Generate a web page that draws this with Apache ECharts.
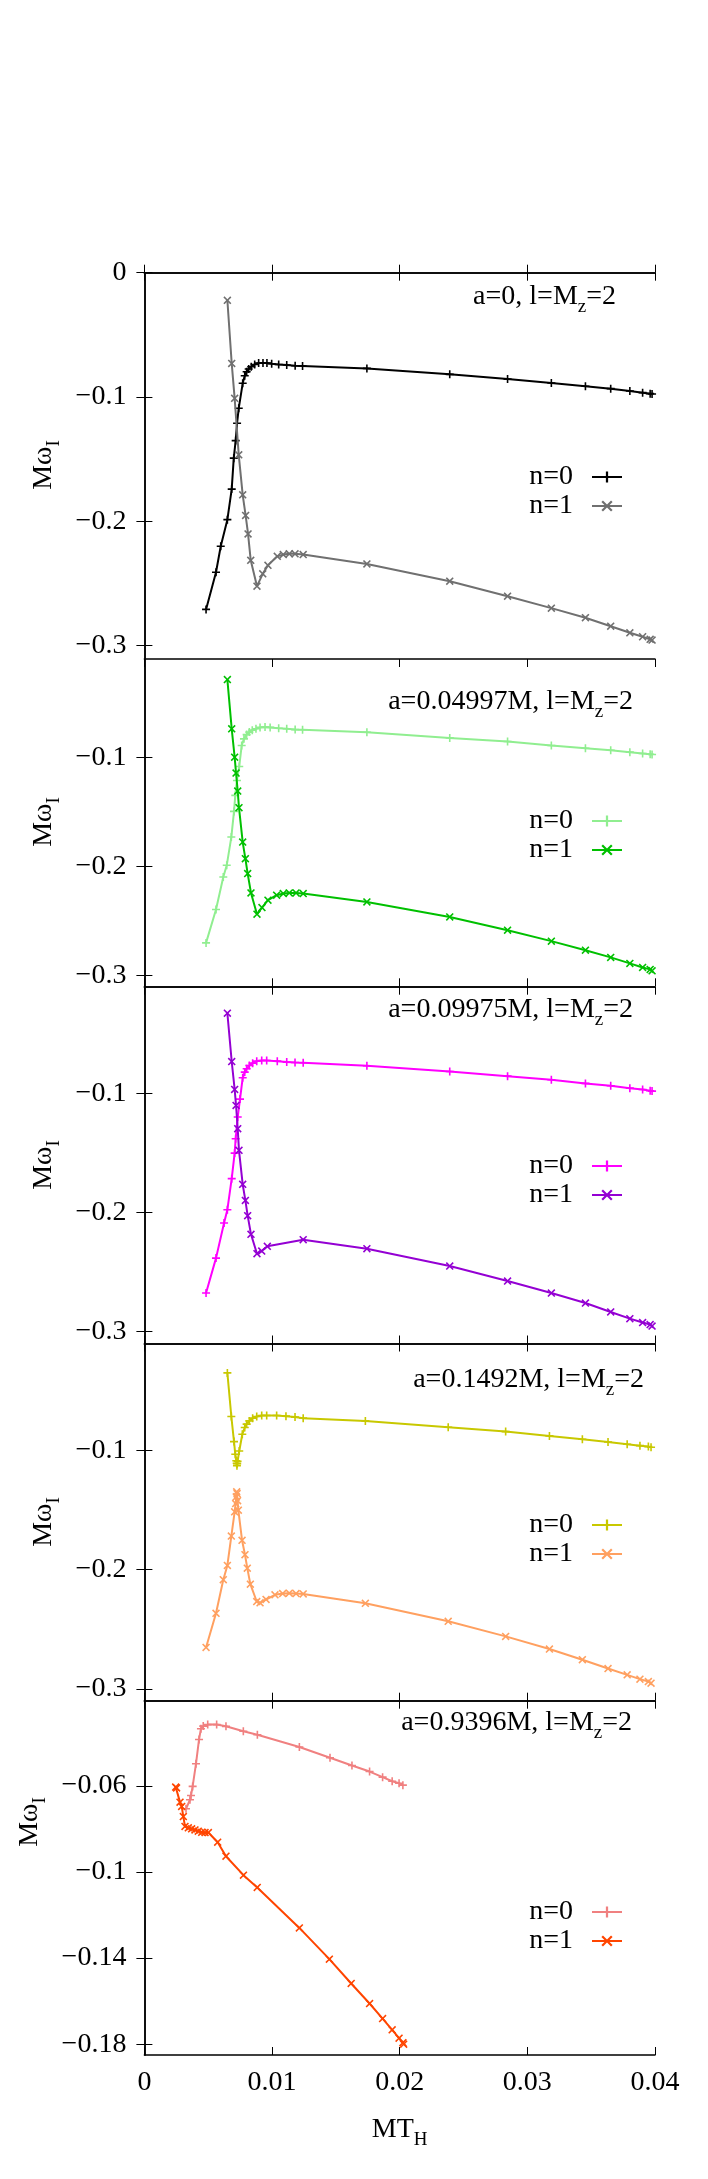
<!DOCTYPE html>
<html><head><meta charset="utf-8">
<script src="https://cdn.jsdelivr.net/npm/echarts@6/dist/echarts.min.js"></script>
<style>html,body{margin:0;padding:0;background:#fff}#c{width:708px;height:2179px}</style>
</head><body><div id="c"></div>
<script>
// ---------- data (x = M T_H, y = M omega_I) ----------
const p1n0 = [[0.00483,-0.2709],[0.00561,-0.2410],[0.00598,-0.2201],[0.00650,-0.1987],[0.00684,-0.1741],[0.00700,-0.1492],[0.00715,-0.1351],[0.00726,-0.1211],[0.00739,-0.1091],[0.00770,-0.0890],[0.00786,-0.0829],[0.00801,-0.0797],[0.00817,-0.0775],[0.00837,-0.0757],[0.00864,-0.0738],[0.00895,-0.0727],[0.00929,-0.0727],[0.00960,-0.0727],[0.00997,-0.0733],[0.01052,-0.0738],[0.01115,-0.0743],[0.01181,-0.0749],[0.01239,-0.0751],[0.01743,-0.0770],[0.02392,-0.0818],[0.02845,-0.0856],[0.03188,-0.0888],[0.03455,-0.0914],[0.03653,-0.0933],[0.03803,-0.0952],[0.03903,-0.0965],[0.03962,-0.0973],[0.03977,-0.0976]];
const p1n1 = [[0.00650,-0.0222],[0.00684,-0.0730],[0.00707,-0.1011],[0.00739,-0.1465],[0.00770,-0.1787],[0.00793,-0.1953],[0.00812,-0.2102],[0.00833,-0.2314],[0.00882,-0.2522],[0.00927,-0.2423],[0.00968,-0.2354],[0.01041,-0.2282],[0.01088,-0.2268],[0.01135,-0.2262],[0.01180,-0.2262],[0.01244,-0.2268],[0.01743,-0.2343],[0.02392,-0.2482],[0.02845,-0.2603],[0.03188,-0.2699],[0.03455,-0.2776],[0.03653,-0.2844],[0.03803,-0.2897],[0.03903,-0.2929],[0.03962,-0.2950],[0.03977,-0.2956]];
const p2n0 = [[0.00483,-0.2702],[0.00561,-0.2396],[0.00618,-0.2098],[0.00645,-0.1991],[0.00681,-0.1732],[0.00702,-0.1497],[0.00712,-0.1350],[0.00725,-0.1213],[0.00743,-0.1085],[0.00762,-0.0893],[0.00780,-0.0832],[0.00801,-0.0793],[0.00822,-0.0770],[0.00845,-0.0752],[0.00874,-0.0740],[0.00906,-0.0727],[0.00945,-0.0724],[0.00985,-0.0727],[0.01052,-0.0735],[0.01115,-0.0740],[0.01181,-0.0747],[0.01239,-0.0749],[0.01743,-0.0771],[0.02392,-0.0823],[0.02845,-0.0856],[0.03188,-0.0893],[0.03455,-0.0918],[0.03653,-0.0936],[0.03803,-0.0954],[0.03903,-0.0966],[0.03962,-0.0973],[0.03977,-0.0975]];
const p2n1 = [[0.00650,-0.0289],[0.00684,-0.0740],[0.00707,-0.1000],[0.00718,-0.1146],[0.00731,-0.1311],[0.00741,-0.1463],[0.00770,-0.1778],[0.00791,-0.1930],[0.00809,-0.2067],[0.00835,-0.2244],[0.00882,-0.2439],[0.00921,-0.2378],[0.00968,-0.2311],[0.01036,-0.2265],[0.01088,-0.2250],[0.01135,-0.2244],[0.01188,-0.2244],[0.01244,-0.2250],[0.01743,-0.2327],[0.02392,-0.2464],[0.02845,-0.2586],[0.03188,-0.2686],[0.03455,-0.2769],[0.03653,-0.2835],[0.03803,-0.2890],[0.03903,-0.2927],[0.03962,-0.2945],[0.03977,-0.2958]];
const p3n0 = [[0.00483,-0.2676],[0.00561,-0.2382],[0.00624,-0.2087],[0.00650,-0.1975],[0.00684,-0.1714],[0.00707,-0.1499],[0.00715,-0.1378],[0.00731,-0.1196],[0.00749,-0.1045],[0.00770,-0.0866],[0.00786,-0.0818],[0.00801,-0.0790],[0.00822,-0.0762],[0.00848,-0.0743],[0.00880,-0.0726],[0.00919,-0.0720],[0.00958,-0.0720],[0.01041,-0.0726],[0.01115,-0.0734],[0.01180,-0.0737],[0.01244,-0.0739],[0.01743,-0.0765],[0.02392,-0.0813],[0.02845,-0.0852],[0.03188,-0.0882],[0.03455,-0.0913],[0.03653,-0.0933],[0.03803,-0.0953],[0.03903,-0.0964],[0.03962,-0.0975],[0.03977,-0.0978]];
const p3n1 = [[0.00650,-0.0323],[0.00684,-0.0729],[0.00707,-0.0964],[0.00718,-0.1098],[0.00731,-0.1294],[0.00741,-0.1476],[0.00770,-0.1762],[0.00791,-0.1897],[0.00809,-0.2025],[0.00835,-0.2182],[0.00882,-0.2345],[0.00919,-0.2323],[0.00963,-0.2283],[0.01244,-0.2227],[0.01743,-0.2303],[0.02392,-0.2449],[0.02845,-0.2575],[0.03188,-0.2676],[0.03455,-0.2760],[0.03653,-0.2835],[0.03803,-0.2891],[0.03903,-0.2924],[0.03962,-0.2941],[0.03977,-0.2953]];
const p4n0 = [[0.00650,-0.0347],[0.00681,-0.0713],[0.00702,-0.0924],[0.00712,-0.1030],[0.00720,-0.1085],[0.00723,-0.1106],[0.00725,-0.1126],[0.00727,-0.1110],[0.00730,-0.1090],[0.00743,-0.1003],[0.00767,-0.0862],[0.00786,-0.0806],[0.00801,-0.0777],[0.00822,-0.0750],[0.00848,-0.0727],[0.00880,-0.0713],[0.00919,-0.0705],[0.00958,-0.0705],[0.01036,-0.0705],[0.01109,-0.0710],[0.01180,-0.0718],[0.01244,-0.0727],[0.01731,-0.0750],[0.02380,-0.0803],[0.02830,-0.0840],[0.03173,-0.0876],[0.03431,-0.0904],[0.03632,-0.0927],[0.03782,-0.0946],[0.03882,-0.0958],[0.03948,-0.0966],[0.03969,-0.0971]];
const p4n1 = [[0.00483,-0.2653],[0.00561,-0.2366],[0.00618,-0.2084],[0.00650,-0.1964],[0.00681,-0.1717],[0.00707,-0.1514],[0.00715,-0.1444],[0.00720,-0.1388],[0.00723,-0.1346],[0.00726,-0.1360],[0.00730,-0.1420],[0.00736,-0.1500],[0.00765,-0.1753],[0.00788,-0.1874],[0.00806,-0.1987],[0.00830,-0.2121],[0.00880,-0.2267],[0.00906,-0.2278],[0.00953,-0.2250],[0.01023,-0.2211],[0.01083,-0.2200],[0.01135,-0.2197],[0.01188,-0.2200],[0.01244,-0.2203],[0.01731,-0.2282],[0.02380,-0.2433],[0.02830,-0.2560],[0.03173,-0.2666],[0.03431,-0.2756],[0.03632,-0.2830],[0.03782,-0.2883],[0.03882,-0.2919],[0.03948,-0.2939],[0.03969,-0.2953]];
const p5n0 = [[0.00326,-0.0707],[0.00357,-0.0665],[0.00365,-0.0645],[0.00378,-0.0603],[0.00404,-0.0498],[0.00428,-0.0385],[0.00443,-0.0335],[0.00461,-0.0323],[0.00496,-0.0316],[0.00566,-0.0316],[0.00639,-0.0324],[0.00775,-0.0347],[0.00885,-0.0363],[0.01214,-0.0420],[0.01454,-0.0470],[0.01626,-0.0506],[0.01764,-0.0534],[0.01866,-0.0560],[0.01941,-0.0579],[0.01995,-0.0588],[0.02025,-0.0597]];
const p5n1 = [[0.00245,-0.0606],[0.00252,-0.0610],[0.00279,-0.0676],[0.00292,-0.0696],[0.00305,-0.0743],[0.00318,-0.0789],[0.00344,-0.0795],[0.00370,-0.0800],[0.00396,-0.0805],[0.00422,-0.0811],[0.00449,-0.0816],[0.00475,-0.0817],[0.00501,-0.0817],[0.00574,-0.0862],[0.00639,-0.0927],[0.00776,-0.1015],[0.00884,-0.1072],[0.01214,-0.1260],[0.01449,-0.1405],[0.01620,-0.1518],[0.01764,-0.1611],[0.01866,-0.1681],[0.01941,-0.1733],[0.01995,-0.1772],[0.02025,-0.1793],[0.02031,-0.1800]];

const xTicks = [0, 0.01, 0.02, 0.03, 0.04];
const yTicks1 = [0, -0.1, -0.2, -0.3];
const yTicks234 = [-0.1, -0.2, -0.3];
const yTicks5 = [-0.06, -0.1, -0.14, -0.18];
const spinLabels = ['0', '0.04997M', '0.09975M', '0.1492M', '0.9396M'];
const legendNames = ['n=0', 'n=1'];
const colorsN0 = ['#000000', '#90ee90', '#ff00ff', '#c8c800', '#f08080'];
const colorsN1 = ['#707070', '#00c000', '#9400d3', '#ffa060', '#ff4500'];

// ---------- layout ----------
const F = 'Liberation Serif';
const LEFT = 144.4, RIGHT = 53;
const panels = [
  {top: 272.7, height: 385.3, min: -0.31, max: 0,     ticks: yTicks1,   n0: p1n0, n1: p1n1, titleX: 616, titleY: 297, legY: 458, ylabX: 44, ylabY: 465},
  {top: 659,   height: 327.3, min: -0.31, max: -0.01, ticks: yTicks234, n0: p2n0, n1: p2n1, titleX: 633, titleY: 702, legY: 802, ylabX: 44, ylabY: 822},
  {top: 986.7, height: 356.8, min: -0.31, max: -0.01, ticks: yTicks234, n0: p3n0, n1: p3n1, titleX: 633, titleY: 1010, legY: 1147, ylabX: 44, ylabY: 1165},
  {top: 1343.5,height: 357.2, min: -0.31, max: -0.01, ticks: yTicks234, n0: p4n0, n1: p4n1, titleX: 644, titleY: 1380, legY: 1506, ylabX: 44, ylabY: 1522},
  {top: 1700.7,height: 354.3, min: -0.185,max: -0.0205,ticks: yTicks5,  n0: p5n0, n1: p5n1, titleX: 632, titleY: 1723, legY: 1893, ylabX: 30, ylabY: 1822}
];

const PLUS = 'path://M4,0H6V4H10V6H6V10H4V6H0V4H4Z';
const CROSS = 'path://M0,1.4L1.4,0L5,3.6L8.6,0L10,1.4L6.4,5L10,8.6L8.6,10L5,6.4L1.4,10L0,8.6L3.6,5Z';

const fmt = v => v === 0 ? '0' : (v < 0 ? '\u2212' : '') + String(Math.abs(v));
const lineAx = {show: true, lineStyle: {color: '#000', width: 1.5}};

const grid = [], xAxis = [], yAxis = [], series = [], legend = [], graphic = [];
const richM = {fontSize: 28, fontFamily: F, lineHeight: 40, verticalAlign: 'middle', fill: '#000'};
const richS = {fontSize: 19, fontFamily: F, lineHeight: 20, verticalAlign: 'bottom', fill: '#000'};

panels.forEach((p, i) => {
  grid.push({left: LEFT, right: RIGHT, top: p.top, height: p.height, containLabel: false});
  const last = i === panels.length - 1;
  xAxis.push({type: 'value', gridIndex: i, position: 'bottom', min: 0, max: 0.04,
    axisLine: lineAx, splitLine: {show: false},
    axisTick: {show: true, inside: true, length: 8, customValues: xTicks, lineStyle: {color: '#000', width: 1}},
    axisLabel: {show: last, customValues: xTicks, formatter: fmt, fontFamily: F, fontSize: 28, color: '#000', margin: 14}});
  xAxis.push({type: 'value', gridIndex: i, position: 'top', min: 0, max: 0.04,
    axisLine: lineAx, splitLine: {show: false},
    axisTick: {show: true, inside: true, length: 8, customValues: xTicks, lineStyle: {color: '#000', width: 1}},
    axisLabel: {show: false}});
  yAxis.push({type: 'value', gridIndex: i, position: 'left', min: p.min, max: p.max,
    axisLine: lineAx, splitLine: {show: false},
    axisTick: {show: true, inside: true, length: 8, customValues: p.ticks, lineStyle: {color: '#000', width: 1}},
    axisLabel: {show: true, customValues: p.ticks, formatter: fmt, fontFamily: F, fontSize: 28, color: '#000', margin: 18}});
  yAxis.push({type: 'value', gridIndex: i, position: 'right', min: p.min, max: p.max,
    axisLine: lineAx, splitLine: {show: false},
    axisTick: {show: true, inside: true, length: 8, customValues: p.ticks, lineStyle: {color: '#000', width: 1}},
    axisLabel: {show: false}});
  const mk = (k, data, color, sym) => ({
    type: 'line', name: (i + 1) + ':' + legendNames[k], data,
    xAxisIndex: 2 * i, yAxisIndex: 2 * i,
    symbol: sym, symbolSize: 8, showSymbol: true,
    lineStyle: {color, width: 2}, itemStyle: {color},
    emphasis: {disabled: true}, animation: false, z: 2 + k
  });
  series.push(mk(0, p.n0, colorsN0[i], PLUS));
  series.push(mk(1, p.n1, colorsN1[i], CROSS));
  legend.push({
    data: legendNames.map(n => (i + 1) + ':' + n),
    orient: 'vertical', align: 'right', right: 80, top: p.legY,
    itemWidth: 30, itemHeight: 14, itemGap: 1, selectedMode: false,
    formatter: n => n.split(':')[1],
    textStyle: {fontFamily: F, fontSize: 28, color: '#000', lineHeight: 28, padding: [0, 14, 0, 0]}
  });
  graphic.push({type: 'text', x: p.titleX, y: p.titleY, style: {
    text: '{m|a=' + spinLabels[i] + ', l=M}{s|z}{m|=2}', align: 'right', verticalAlign: 'middle',
    rich: {m: richM, s: richS}}});
  graphic.push({type: 'text', x: p.ylabX, y: p.ylabY, rotation: Math.PI / 2, style: {
    text: '{m|M\u03c9}{s|I}', align: 'center', verticalAlign: 'middle',
    rich: {m: richM, s: richS}}});
});
graphic.push({type: 'text', x: 399.6, y: 2130, style: {
  text: '{m|MT}{s|H}', align: 'center', verticalAlign: 'middle', rich: {m: richM, s: richS}}});

const chart = echarts.init(document.getElementById('c'), null, {renderer: 'canvas'});
chart.setOption({backgroundColor: '#fff', animation: false, grid, xAxis, yAxis, series, legend, graphic});
</script></body></html>
